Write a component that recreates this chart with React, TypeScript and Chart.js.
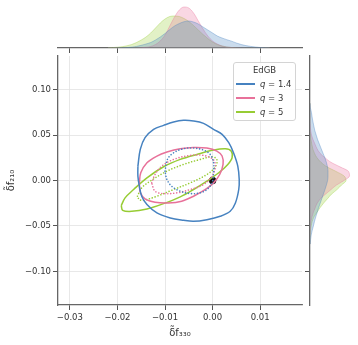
import React, { useEffect, useRef } from "react";
import { Chart, registerables } from "chart.js";

Chart.register(...registerables);
Chart.defaults.font.family = "DejaVu Sans";

// ---- axis limits and ticks ----
const X_MIN = -0.0325;
const X_MAX = 0.0188;
const Y_MIN = -0.137;
const Y_MAX = 0.137;
const X_TICKS = [-0.03, -0.02, -0.01, 0.0, 0.01];
const Y_TICKS = [-0.1, -0.05, 0.0, 0.05, 0.1];

// ---- series labels / colours ----
const SERIES = ["q = 1.4", "q = 3", "q = 5"];
const LEGEND_TITLE = "EdGB";
const X_LABEL = "δ̃f₃₃₀";
const Y_LABEL = "δ̃f₂₁₀";
const BLUE = "#4682c0";
const PINK = "#e8719a";
const GREEN = "#97cc34";
const BLUE_FILL = "rgba(70,130,192,0.28)";
const PINK_FILL = "rgba(232,113,154,0.28)";
const GREEN_FILL = "rgba(151,204,52,0.28)";

// ---- 2D contours (outer = solid, inner = dotted) ----
const BLUE_OUTER_X = [-0.0157, -0.0152, -0.0142, -0.0124, -0.0103, -0.0082, -0.0061, -0.004, -0.0019, 0.0002, 0.002, 0.0034, 0.0044, 0.0053, 0.0056, 0.0055, 0.0048, 0.0037, 0.0016, -0.0012, -0.004, -0.0061, -0.0089, -0.0117, -0.0138, -0.0149, -0.0154, -0.0157];
const BLUE_OUTER_Y = [0.0158, 0.0342, 0.0471, 0.0563, 0.0607, 0.0644, 0.0662, 0.0655, 0.0629, 0.0563, 0.0508, 0.0416, 0.0305, 0.0158, 0.0011, -0.0099, -0.0247, -0.0339, -0.0394, -0.0431, -0.0449, -0.0438, -0.0412, -0.0357, -0.0265, -0.0173, -0.0063, 0.0048];
const BLUE_INNER_X = [-0.01, -0.0095, -0.0082, -0.0061, -0.004, -0.0019, -0.0005, 0.0002, 0.0002, -0.0001, -0.0012, -0.0026, -0.0047, -0.0068, -0.0086, -0.0096];
const BLUE_INNER_Y = [0.0103, 0.0232, 0.0305, 0.035, 0.0357, 0.0335, 0.0287, 0.0195, 0.0085, -0.0026, -0.0099, -0.0136, -0.0144, -0.0118, -0.0063, 0.0011];
const PINK_OUTER_X = [-0.0154, -0.0151, -0.0138, -0.0117, -0.0096, -0.0068, -0.004, -0.0012, 0.0009, 0.002, 0.0022, 0.0015, 0.0002, -0.0015, -0.004, -0.0065, -0.0093, -0.0121, -0.0142, -0.0152];
const PINK_OUTER_Y = [-0.0026, 0.0085, 0.0195, 0.0269, 0.0313, 0.035, 0.0364, 0.0357, 0.0324, 0.0269, 0.0177, 0.0066, -0.0026, -0.0099, -0.0173, -0.0228, -0.0247, -0.0239, -0.0202, -0.0129];
const PINK_INNER_X = [-0.0128, -0.0121, -0.0107, -0.0082, -0.0047, -0.0019, 0.0001, 0.0006, -0.0001, -0.0019, -0.0047, -0.0075, -0.0103, -0.0121];
const PINK_INNER_Y = [-0.0026, 0.0066, 0.0158, 0.0232, 0.0276, 0.0276, 0.0232, 0.0158, 0.0048, -0.0044, -0.0099, -0.0136, -0.0144, -0.0118];
const GREEN_OUTER_X = [-0.0192, -0.0184, -0.0166, -0.0138, -0.0103, -0.0068, -0.0033, 0.0002, 0.0027, 0.0039, 0.0041, 0.0032, 0.0013, -0.0012, -0.004, -0.0068, -0.0103, -0.0138, -0.017, -0.0189];
const GREEN_OUTER_Y = [-0.0276, -0.0191, -0.0099, 0.0029, 0.0151, 0.0232, 0.0287, 0.0335, 0.035, 0.0324, 0.025, 0.0177, 0.0085, -0.0007, -0.0099, -0.018, -0.0254, -0.0313, -0.0339, -0.0328];
const GREEN_INNER_X = [-0.0158, -0.0149, -0.0131, -0.0096, -0.0061, -0.0026, -0.0001, 0.0009, 0.0006, -0.0012, -0.0047, -0.0082, -0.0117, -0.0145, -0.0154];
const GREEN_INNER_Y = [-0.0173, -0.0081, -0.0007, 0.0103, 0.0177, 0.0232, 0.0261, 0.0232, 0.0151, 0.0066, -0.0026, -0.0099, -0.0173, -0.0217, -0.021];
const TRUTH_X = [0.0];
const TRUTH_Y = [0.0];

// ---- marginal densities (relative units) ----
const TOP_X = [-0.022, -0.021, -0.02, -0.019, -0.018, -0.017, -0.016, -0.015, -0.014, -0.013, -0.012, -0.011, -0.01, -0.009, -0.008, -0.007, -0.006, -0.005, -0.004, -0.003, -0.002, -0.001, 0.0, 0.001, 0.002, 0.003, 0.004, 0.005, 0.006, 0.007, 0.008, 0.009, 0.01, 0.011, 0.012];
const TOP_BLUE = [0, 0, 0.1, 0.2, 0.5, 0.9, 1.6, 2.7, 4, 5.5, 8, 11, 14.5, 18.5, 22, 24.5, 26.3, 27, 26, 24, 21, 18, 15, 12, 10, 8.3, 6.8, 5, 3.5, 2.4, 1.6, 1, 0.5, 0.2, 0.05];
const TOP_PINK = [0, 0, 0, 0, 0, 0, 0.1, 0.3, 0.7, 1.5, 3.5, 7, 13, 22, 31, 38, 41, 40, 35, 27, 19, 12, 7, 4, 2, 1, 0.5, 0.2, 0.1, 0, 0, 0, 0, 0, 0];
const TOP_GREEN = [0.2, 0.4, 0.8, 1.3, 2.2, 3.5, 5.5, 8, 11, 15, 20, 25, 29, 31.5, 32, 31.5, 29.5, 26.5, 22.5, 18, 13.5, 9.5, 6, 3.5, 2, 1, 0.5, 0.2, 0, 0, 0, 0, 0, 0, 0];

const RIGHT_Y = [0.085, 0.08, 0.075, 0.07, 0.065, 0.06, 0.055, 0.05, 0.045, 0.04, 0.035, 0.03, 0.025, 0.02, 0.015, 0.01, 0.005, 0.0, -0.005, -0.01, -0.015, -0.02, -0.025, -0.03, -0.035, -0.04, -0.045, -0.05, -0.055, -0.06, -0.065, -0.07];
const RIGHT_BLUE = [0.1, 0.4, 1.4, 2.1, 2.9, 3.8, 4.8, 6.2, 7.6, 9.4, 11.2, 13, 14.9, 16.4, 17.5, 18, 18, 17.6, 16.4, 15, 13.4, 11.8, 10.2, 8.6, 7.2, 5.8, 4.5, 3.4, 2.2, 1.2, 0.6, 0.3];
const RIGHT_PINK = [0, 0, 0, 0, 0, 0.3, 0.7, 1.5, 3, 5, 7, 10, 15, 21, 30, 38.5, 39.5, 34, 26.5, 21, 15.5, 10.5, 7.2, 5.2, 3.4, 2, 1, 0.5, 0.3, 0.1, 0, 0];
const RIGHT_GREEN = [0, 0, 0, 0, 0, 0, 0, 0.5, 1, 1.8, 2.8, 4.5, 7, 11, 17, 26, 34, 36, 31.5, 27, 21.5, 17.5, 13.5, 10, 7, 4, 2.2, 1.2, 0.6, 0.3, 0.1, 0];

const MARGIN_MAX = 48;

const TICK_FONT = { family: "DejaVu Sans", size: 8.5 };
const SPINE = "#666666";
const TICK_COLOR = "#555555";
const LABEL_COLOR = "#333333";
const GRID = "#e2e2e2";

function loop(xs: number[], ys: number[]) {
  const pts = xs.map((x, i) => ({ x, y: ys[i] }));
  return [...pts, pts[0]];
}

function fmt(v: number) {
  const s = Math.abs(v) < 1e-12 ? "0.00" : v.toFixed(2);
  return s.replace("-", "\u2212");
}

function contour(xs: number[], ys: number[], color: string, dotted: boolean) {
  return {
    data: loop(xs, ys),
    showLine: true,
    borderColor: color,
    backgroundColor: color,
    borderWidth: dotted ? 1.6 : 1.5,
    borderDash: dotted ? [0.01, 3.0] : [],
    borderCapStyle: dotted ? "round" : "butt",
    pointRadius: 0,
    pointHoverRadius: 0,
    tension: 0.35,
    fill: false,
    order: 2,
  };
}

export default function App() {
  const mainRef = useRef<HTMLCanvasElement>(null);
  const topRef = useRef<HTMLCanvasElement>(null);
  const rightRef = useRef<HTMLCanvasElement>(null);

  useEffect(() => {
    const xTicks = (axis: any) => {
      axis.ticks = X_TICKS.map((v) => ({ value: v }));
    };
    const yTicks = (axis: any) => {
      axis.ticks = Y_TICKS.map((v) => ({ value: v }));
    };

    const main = new Chart(mainRef.current as HTMLCanvasElement, {
      type: "scatter",
      data: {
        datasets: [
          contour(BLUE_OUTER_X, BLUE_OUTER_Y, BLUE, false),
          contour(BLUE_INNER_X, BLUE_INNER_Y, BLUE, true),
          contour(PINK_OUTER_X, PINK_OUTER_Y, PINK, false),
          contour(PINK_INNER_X, PINK_INNER_Y, PINK, true),
          contour(GREEN_OUTER_X, GREEN_OUTER_Y, GREEN, false),
          contour(GREEN_INNER_X, GREEN_INNER_Y, GREEN, true),
          {
            data: TRUTH_X.map((x, i) => ({ x, y: TRUTH_Y[i] })),
            pointRadius: 3.5,
            pointHoverRadius: 3.5,
            backgroundColor: "#111111",
            borderColor: "#111111",
            borderWidth: 0.5,
            order: 3,
          },
        ] as any,
      },
      options: {
        responsive: false,
        animation: false,
        events: [],
        layout: { padding: { left: 0, right: 56, top: 56, bottom: 0 } },
        plugins: { legend: { display: false }, tooltip: { enabled: false } },
        scales: {
          x: {
            type: "linear",
            min: X_MIN,
            max: X_MAX,
            afterBuildTicks: xTicks,
            afterFit: (s: any) => {
              s.height = 40;
            },
            grid: { color: GRID, lineWidth: 0.8, drawTicks: true, tickLength: 5, tickColor: TICK_COLOR, tickWidth: 1 },
            border: { display: true, color: SPINE, width: 1.3 },
            ticks: { font: TICK_FONT, color: LABEL_COLOR, padding: 3, maxRotation: 0, callback: (v: any) => fmt(Number(v)) },
            title: { display: true, text: X_LABEL, color: LABEL_COLOR, font: { family: "DejaVu Sans", size: 10 }, padding: { top: 0, bottom: 6 } },
          },
          y: {
            type: "linear",
            min: Y_MIN,
            max: Y_MAX,
            afterBuildTicks: yTicks,
            afterFit: (s: any) => {
              s.width = 58;
            },
            grid: { color: GRID, lineWidth: 0.8, drawTicks: true, tickLength: 5, tickColor: TICK_COLOR, tickWidth: 1 },
            border: { display: true, color: SPINE, width: 1.3 },
            ticks: { font: TICK_FONT, color: LABEL_COLOR, padding: 2, callback: (v: any) => fmt(Number(v)) },
            title: { display: true, text: Y_LABEL, color: LABEL_COLOR, font: { family: "DejaVu Sans", size: 10 }, padding: { top: 5, bottom: 0 } },
          },
        },
      } as any,
    });

    const dens = (xs: number[], ys: number[], fill: string, color: string, horizontal: boolean) => ({
      data: horizontal ? ys.map((y, i) => ({ x: xs[i], y })) : xs.map((x, i) => ({ x, y: ys[i] })),
      fill: "origin",
      backgroundColor: fill,
      borderColor: color,
      borderWidth: 0.8,
      pointRadius: 0,
      pointHoverRadius: 0,
      cubicInterpolationMode: "monotone",
    });

    const top = new Chart(topRef.current as HTMLCanvasElement, {
      type: "line",
      data: {
        datasets: [
          dens(TOP_X, TOP_BLUE, BLUE_FILL, "rgba(70,130,192,0.45)", false),
          dens(TOP_X, TOP_PINK, PINK_FILL, "rgba(232,113,154,0.45)", false),
          dens(TOP_X, TOP_GREEN, GREEN_FILL, "rgba(151,204,52,0.45)", false),
        ] as any,
      },
      options: {
        responsive: false,
        animation: false,
        events: [],
        layout: { padding: { left: 58, right: 56, top: 0, bottom: 0 } },
        plugins: { legend: { display: false }, tooltip: { enabled: false } },
        scales: {
          x: {
            type: "linear",
            min: X_MIN,
            max: X_MAX,
            afterBuildTicks: xTicks,
            afterFit: (s: any) => {
              s.height = 8;
            },
            ticks: { display: false },
            grid: { drawOnChartArea: false, drawTicks: true, tickLength: 5, tickColor: TICK_COLOR, tickWidth: 1 },
            border: { display: true, color: SPINE, width: 1.3 },
          },
          y: { display: false, min: 0, max: MARGIN_MAX },
        },
      } as any,
    });

    const right = new Chart(rightRef.current as HTMLCanvasElement, {
      type: "line",
      data: {
        datasets: [
          dens(RIGHT_BLUE, RIGHT_Y, BLUE_FILL, "rgba(70,130,192,0.45)", true),
          dens(RIGHT_PINK, RIGHT_Y, PINK_FILL, "rgba(232,113,154,0.45)", true),
          dens(RIGHT_GREEN, RIGHT_Y, GREEN_FILL, "rgba(151,204,52,0.45)", true),
        ] as any,
      },
      options: {
        indexAxis: "y",
        responsive: false,
        animation: false,
        events: [],
        layout: { padding: { left: 0, right: 0, top: 56, bottom: 40 } },
        plugins: { legend: { display: false }, tooltip: { enabled: false } },
        scales: {
          y: {
            type: "linear",
            position: "left",
            min: Y_MIN,
            max: Y_MAX,
            afterBuildTicks: yTicks,
            afterFit: (s: any) => {
              s.width = 8;
            },
            ticks: { display: false },
            grid: { drawOnChartArea: false, drawTicks: true, tickLength: 5, tickColor: TICK_COLOR, tickWidth: 1 },
            border: { display: true, color: SPINE, width: 1.3 },
          },
          x: { type: "linear", display: false, min: 0, max: MARGIN_MAX },
        },
      } as any,
    });

    return () => {
      main.destroy();
      top.destroy();
      right.destroy();
    };
  }, []);

  const colors = [BLUE, PINK, GREEN];
  const font = "'DejaVu Sans', sans-serif";

  return (
    <div style={{ position: "fixed", left: 0, top: 0, width: 358, height: 345, background: "#ffffff", overflow: "hidden" }}>
      <canvas ref={mainRef} width={358} height={345} style={{ position: "absolute", left: 0, top: 0 }} />
      <canvas ref={topRef} width={358} height={56} style={{ position: "absolute", left: 0, top: 0 }} />
      <canvas ref={rightRef} width={56} height={345} style={{ position: "absolute", left: 302, top: 0 }} />
      <div
        style={{
          position: "absolute",
          left: 233,
          top: 62,
          width: 63,
          height: 59,
          boxSizing: "border-box",
          border: "1px solid #d4d4d4",
          borderRadius: 3,
          background: "rgba(255,255,255,0.85)",
          fontFamily: font,
          fontSize: 8.5,
          color: LABEL_COLOR,
        }}
      >
        <div style={{ position: "absolute", left: 0, right: 0, top: 1, lineHeight: "12px", textAlign: "center" }}>{LEGEND_TITLE}</div>
        {SERIES.map((s, i) => (
          <div key={s} style={{ position: "absolute", left: 0, top: 14 + i * 14, height: 14, width: 61 }}>
            <div style={{ position: "absolute", left: 2, top: 6, width: 19, height: 2, background: colors[i] }} />
            <div style={{ position: "absolute", left: 26, top: 0, lineHeight: "14px", whiteSpace: "nowrap" }}>
              <span style={{ fontStyle: "italic" }}>{s.slice(0, 1)}</span>
              {s.slice(1)}
            </div>
          </div>
        ))}
      </div>
    </div>
  );
}
